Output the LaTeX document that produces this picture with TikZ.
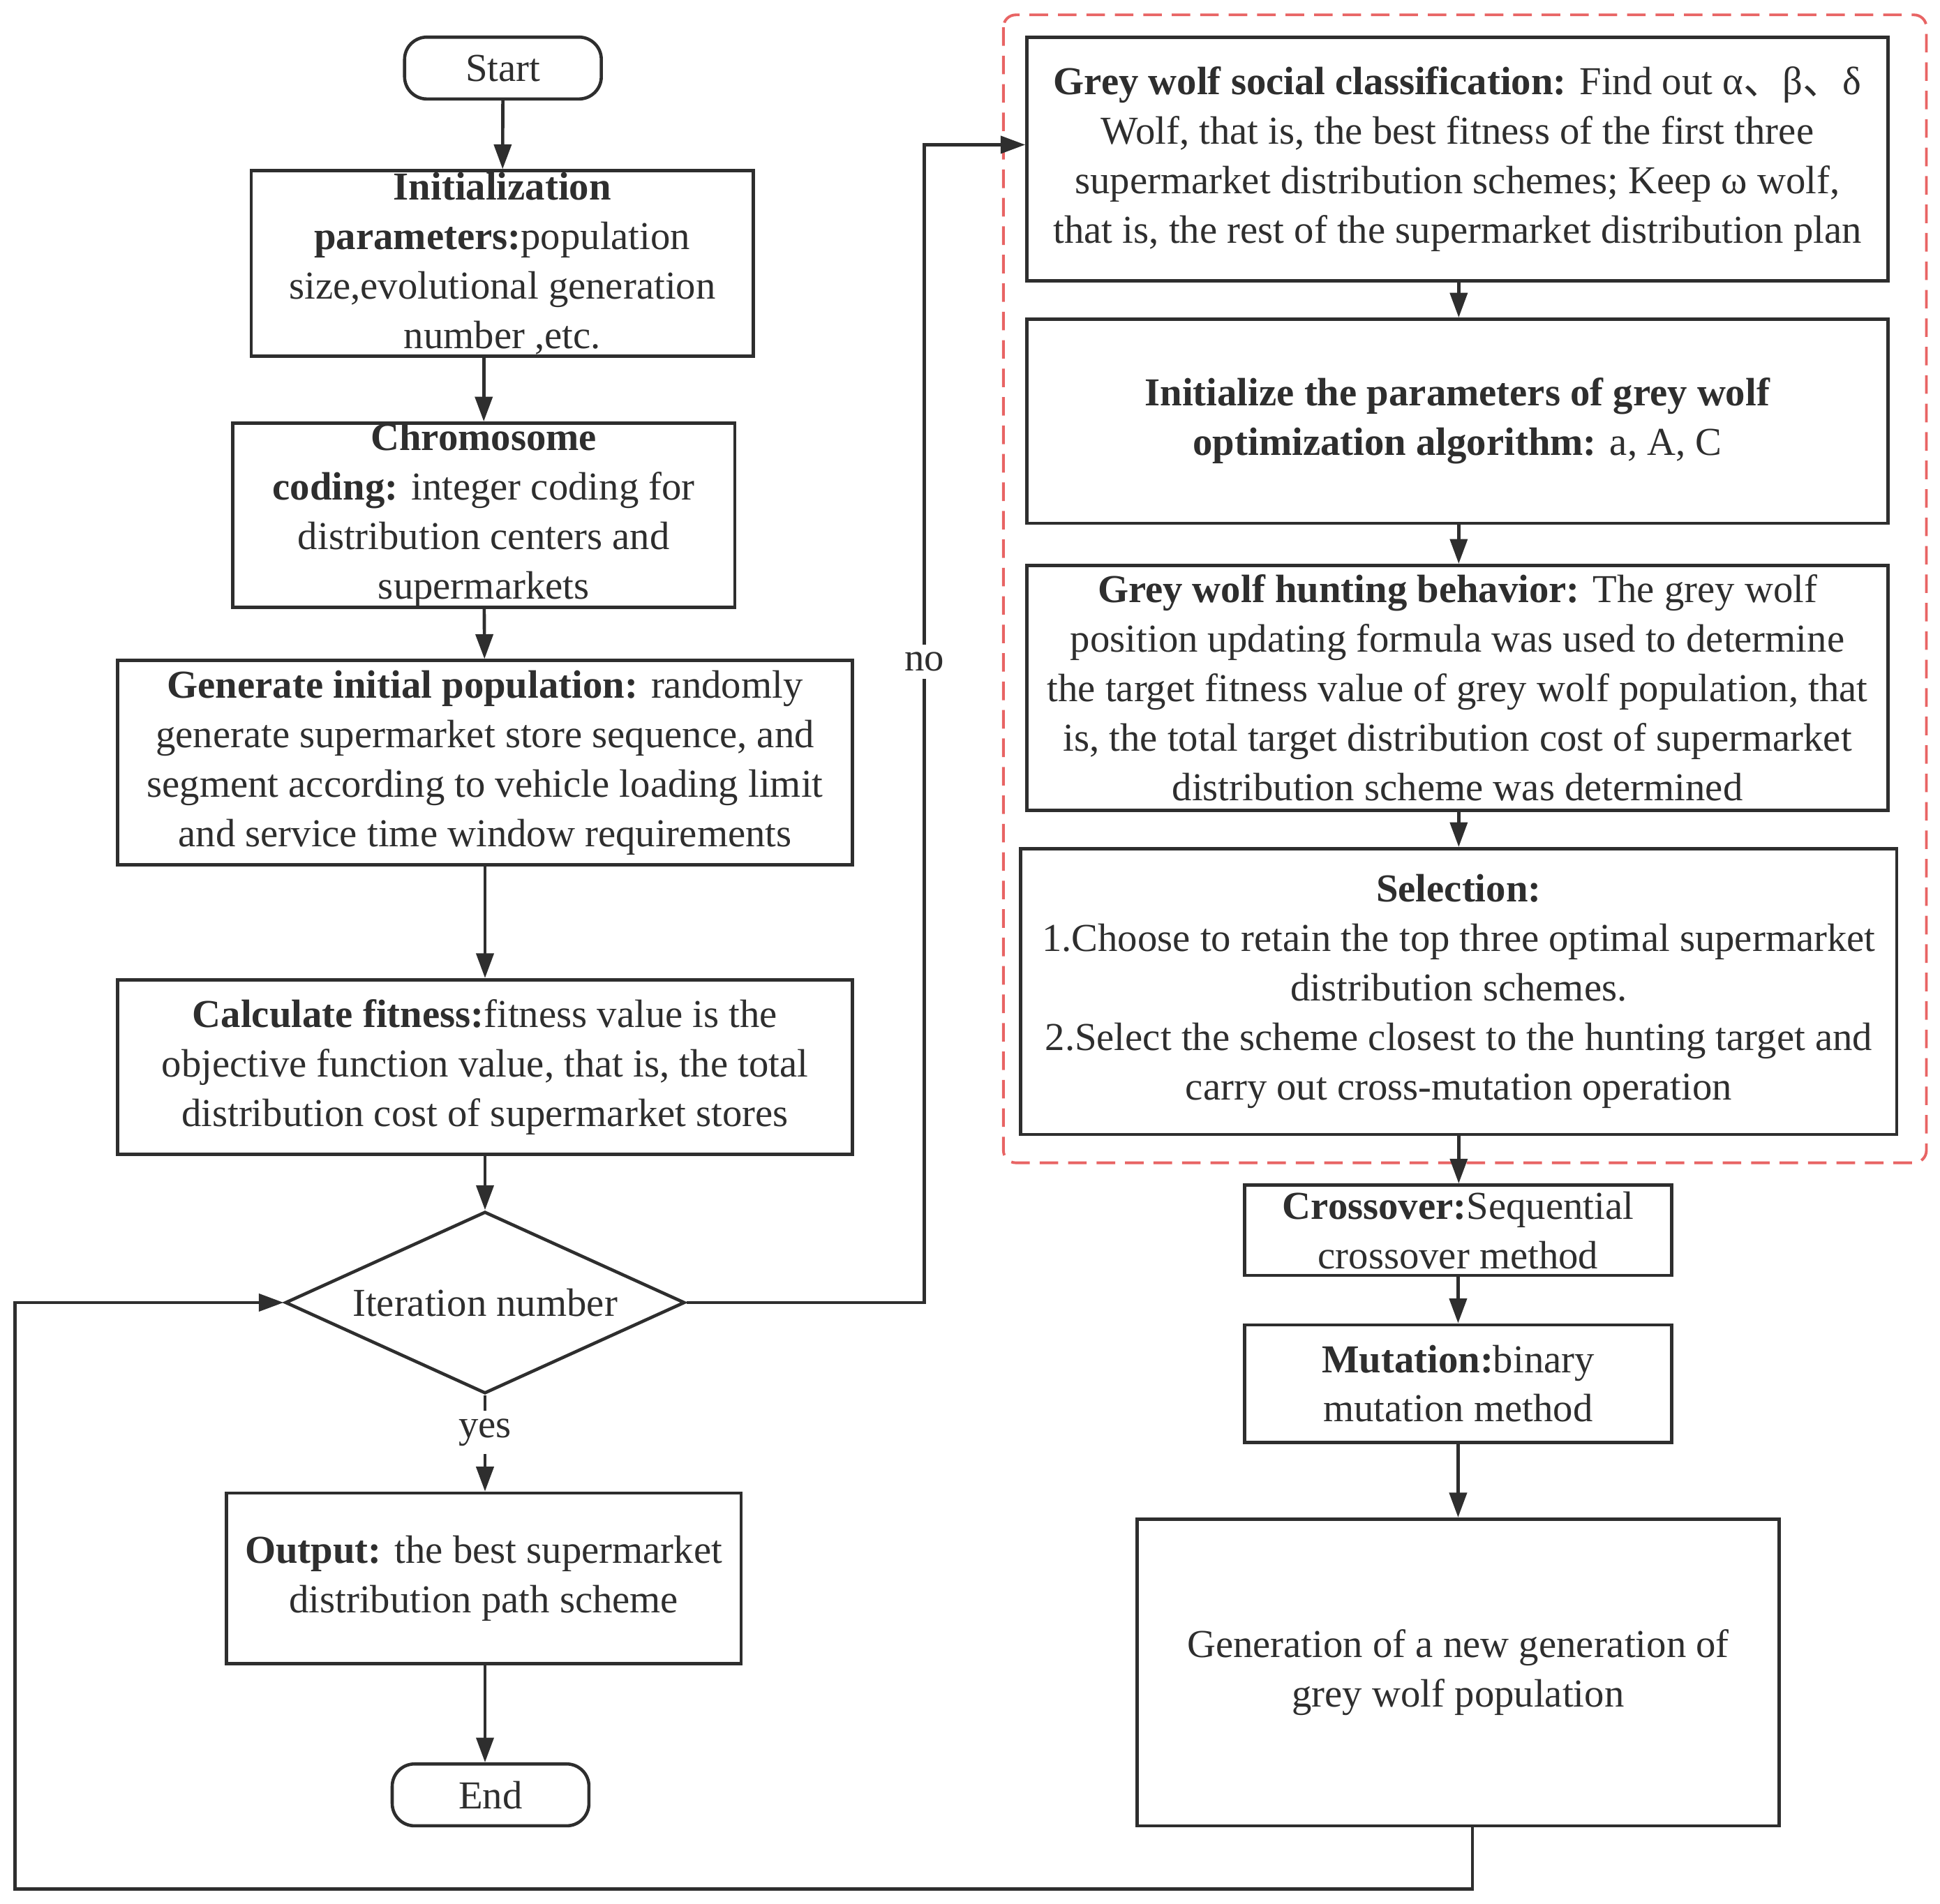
\documentclass[tikz,border=0pt]{standalone}
\usepackage{fontspec}
\setmainfont{Liberation Serif}
\newfontfamily\cjkfont{Noto Sans CJK SC}
\usetikzlibrary{shapes.geometric,arrows.meta,calc}
\definecolor{lc}{HTML}{2E2E2E}
\definecolor{rd}{HTML}{E86464}
\newcommand{\dunhao}{{\cjkfont 、}}
\begin{document}
\begin{tikzpicture}[x=0.5pt,y=-0.5pt,
  every node/.style={font=\fontsize{16pt}{20pt}\selectfont, text=lc},
  box/.style={draw=lc, line width=1.3pt, align=center, inner sep=0pt},
  lower/.style={execute at begin node={\rule{0pt}{14pt}}},
  term/.style={box, rounded corners=9pt},
  cond/.style={diamond, draw=lc, line width=1.3pt, inner sep=0pt, aspect=2.2},
  arr/.style={draw=lc, line width=1.3pt, -{Triangle[length=10pt,width=7pt]}},
  conn/.style={draw=lc, line width=1.3pt},
  lbl/.style={fill=white, inner sep=3pt},
  group/.style={draw=rd, line width=1.1pt, dash pattern=on 7.5pt off 4pt, rounded corners=5pt}
  ]
\useasboundingbox (0,0) rectangle (1568,1538.7);

% left column
\node[term, minimum width=79.5pt, minimum height=25pt] (start) at (406.5,55) {Start};
\node[box, lower, minimum width=203pt, minimum height=75pt] (init) at (406,213)
  {\textbf{Initialization}\\\textbf{parameters:}population\\size,evolutional generation\\number ,etc.};
\node[box, lower, minimum width=203pt, minimum height=70.5pt] (chrom) at (391,416.5)
  {\textbf{Chromosome}\\\textbf{coding:} integer coding for\\distribution centers and\\supermarkets};
\node[box, lower, minimum width=297pt, minimum height=82.5pt] (gen) at (392,616.5)
  {\textbf{Generate initial population:} randomly\\generate supermarket store sequence, and\\segment according to vehicle loading limit\\and service time window requirements};
\node[box, lower, minimum width=297pt, minimum height=70.5pt] (calc) at (392,862.5)
  {\textbf{Calculate fitness:}fitness value is the\\objective function value, that is, the total\\distribution cost of supermarket stores};
\node[cond, minimum width=161.5pt, minimum height=73.5pt] (dia) at (392,1053) {Iteration number};
\node[inner sep=3pt] (yes) at (392,1158) {yes};
\node[box, lower, minimum width=208pt, minimum height=69pt] (out) at (391,1276)
  {\textbf{Output:} the best supermarket\\distribution path scheme};
\node[term, minimum width=79.5pt, minimum height=25pt] (end) at (396.5,1451) {End};

% right column
\draw[group] (811,12) rectangle (1557,940);
\node[box, lower, minimum width=348pt, minimum height=98.5pt] (gw1) at (1178,128.5)
  {\textbf{Grey wolf social classification:} Find out α\dunhao β\dunhao δ\\Wolf, that is, the best fitness of the first three\\supermarket distribution schemes; Keep ω wolf,\\that is, the rest of the supermarket distribution plan};
\node[box, lower, minimum width=348pt, minimum height=82.5pt] (gw2) at (1178,340.5)
  {\textbf{Initialize the parameters of grey wolf}\\\textbf{optimization algorithm:} a, A, C};
\node[box, minimum width=348pt, minimum height=99pt] (gw3) at (1178,556)
  {\textbf{Grey wolf hunting behavior:} The grey wolf\\position updating formula was used to determine\\the target fitness value of grey wolf population, that\\is, the total target distribution cost of supermarket\\distribution scheme was determined};
\node[box, lower, minimum width=354pt, minimum height=115.5pt] (sel) at (1179,801.5)
  {\textbf{Selection:}\\1.Choose to retain the top three optimal supermarket\\distribution schemes.\\2.Select the scheme closest to the hunting target and\\carry out cross-mutation operation};
\node[box, minimum width=172.5pt, minimum height=36.5pt] (cross) at (1178.5,994.5)
  {\textbf{Crossover:}Sequential\\crossover method};
\node[box, minimum width=172.5pt, minimum height=47.5pt] (mut) at (1178.5,1118.5)
  {\textbf{Mutation:}binary\\mutation method};
\node[box, lower, minimum width=259.5pt, minimum height=124pt] (newgen) at (1178.5,1352)
  {Generation of a new generation of\\grey wolf population};

% helper coordinates
\coordinate (nc) at (747,1053);
\coordinate (nt) at (747,117);
\coordinate (lb) at (1190,1527);
\coordinate (ll) at (12,1527);

% connectors left
\draw[arr] (start) -- (init);
\draw[arr] (init.south -| chrom.north) -- (chrom.north);
\draw[arr] (chrom) -- (gen);
\draw[arr] (gen) -- (calc);
\draw[arr] (calc) -- (dia);
\draw[conn] (dia.south) -- (yes.north);
\draw[arr] (yes.south) -- (yes.south |- out.north);
\draw[arr] (out.south -| dia.south) -- (end.north -| dia.south);

% connectors right
\draw[arr] (gw1.south -| sel.north) -- (gw2.north -| sel.north);
\draw[arr] (gw2.south -| sel.north) -- (gw3.north -| sel.north);
\draw[arr] (gw3.south -| sel.north) -- (sel.north);
\draw[arr] (sel.south) -- (sel.south |- cross.north);
\draw[arr] (cross.south) -- (mut.north);
\draw[arr] (mut.south) -- (newgen.north);

% no branch
\draw[arr] (dia.east) -- (nc) -- (nt) -- (nt -| gw1.west);
\node[lbl] (no) at (747,535) {no};

% loop back
\draw[arr] (newgen.south -| lb) -- (lb) -- (ll) |- (dia.west);
\end{tikzpicture}
\end{document}
